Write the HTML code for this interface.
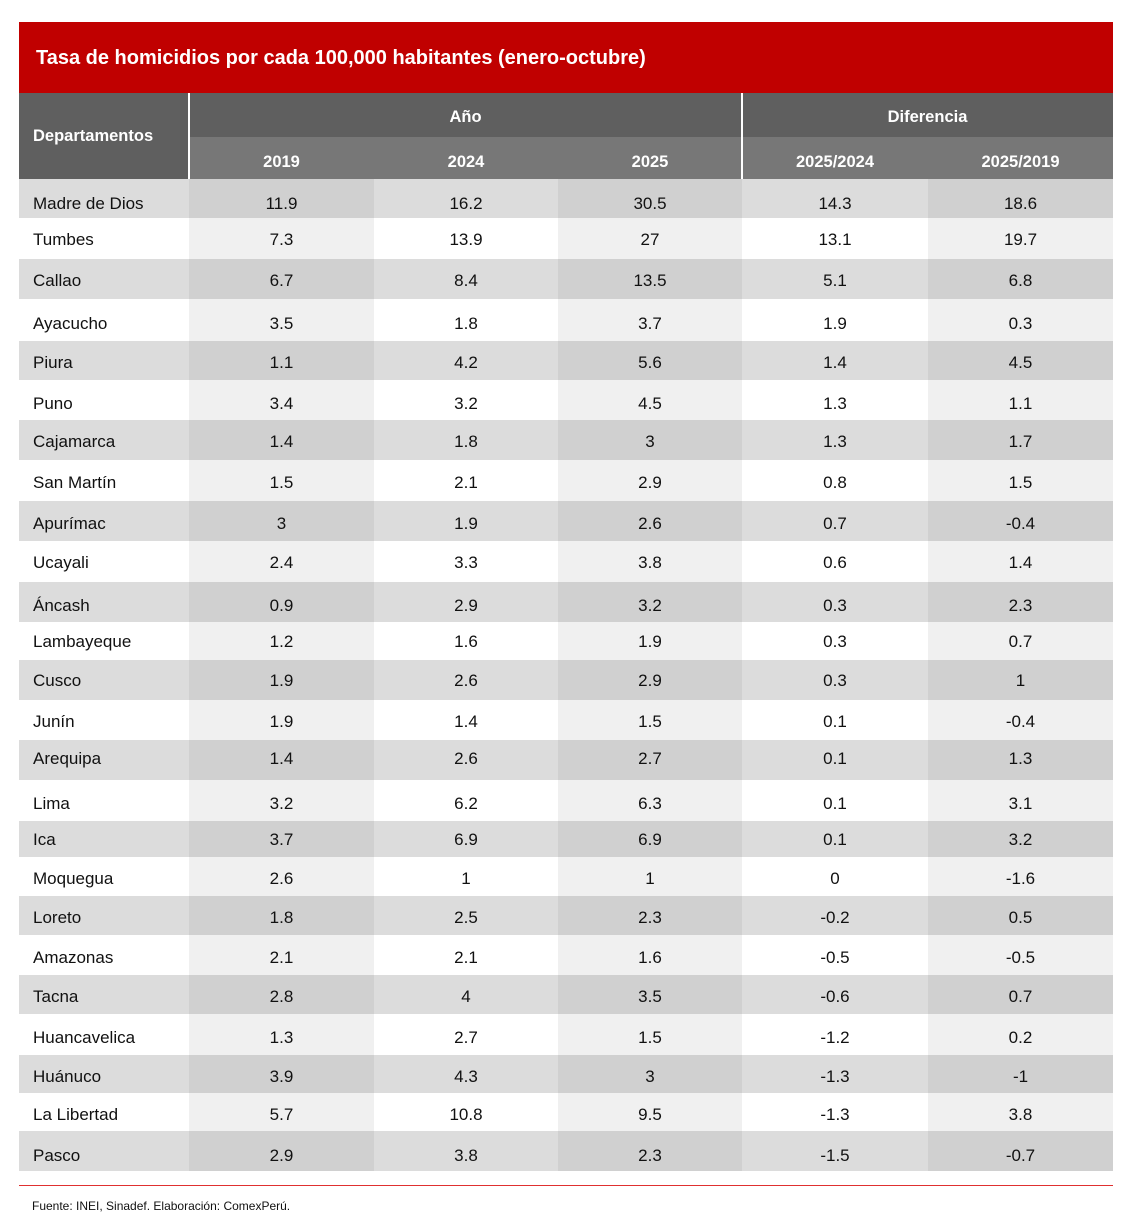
<!DOCTYPE html><html><head><meta charset="utf-8"><style>
body{margin:0;width:1136px;height:1229px;background:#fff;font-family:"Liberation Sans",Arial,sans-serif;position:relative;overflow:hidden}
div{position:absolute;box-sizing:border-box}
.c{display:flex;align-items:center;justify-content:center;font-size:17px;color:#111}
.n{justify-content:flex-start;padding-left:14px}
.h{color:#fff;font-weight:bold;font-size:16.5px}
</style></head><body>
<div style="left:19px;top:22px;width:1094px;height:71px;background:#c00000;color:#fff;font-weight:bold;font-size:20px;padding:25px 0 0 17px">Tasa de homicidios por cada 100,000 habitantes (enero-octubre)</div>
<div class="c h n" style="left:19px;top:93px;width:170px;height:86px;background:#5f5f5f;padding-top:0">Departamentos</div>
<div class="c h" style="left:189px;top:95px;width:553px;height:44px;background:#5f5f5f">Año</div>
<div style="left:189px;top:93px;width:924px;height:4px;background:#5f5f5f"></div>
<div class="c h" style="left:742px;top:95px;width:371px;height:44px;background:#5f5f5f">Diferencia</div>
<div style="left:189px;top:137px;width:924px;height:42px;background:#777"></div>
<div class="c h" style="left:189px;top:141px;width:185px;height:42px">2019</div>
<div class="c h" style="left:374px;top:141px;width:184px;height:42px">2024</div>
<div class="c h" style="left:558px;top:141px;width:184px;height:42px">2025</div>
<div class="c h" style="left:742px;top:141px;width:186px;height:42px">2025/2024</div>
<div class="c h" style="left:928px;top:141px;width:185px;height:42px">2025/2019</div>
<div style="left:188px;top:93px;width:2px;height:86px;background:#fff"></div>
<div style="left:741px;top:93px;width:2px;height:86px;background:#fff"></div>
<div id="t"></div>
<div style="left:19px;top:1185px;width:1094px;height:1px;background:#e03030"></div>
<div style="left:32px;top:1199px;font-size:12px;color:#111">Fuente: INEI, Sinadef. Elaboración: ComexPerú.</div>
<script>
var d=[["Madre de Dios","11.9","16.2","30.5","14.3","18.6"],["Tumbes","7.3","13.9","27","13.1","19.7"],["Callao","6.7","8.4","13.5","5.1","6.8"],["Ayacucho","3.5","1.8","3.7","1.9","0.3"],["Piura","1.1","4.2","5.6","1.4","4.5"],["Puno","3.4","3.2","4.5","1.3","1.1"],["Cajamarca","1.4","1.8","3","1.3","1.7"],["San Martín","1.5","2.1","2.9","0.8","1.5"],["Apurímac","3","1.9","2.6","0.7","-0.4"],["Ucayali","2.4","3.3","3.8","0.6","1.4"],["Áncash","0.9","2.9","3.2","0.3","2.3"],["Lambayeque","1.2","1.6","1.9","0.3","0.7"],["Cusco","1.9","2.6","2.9","0.3","1"],["Junín","1.9","1.4","1.5","0.1","-0.4"],["Arequipa","1.4","2.6","2.7","0.1","1.3"],["Lima","3.2","6.2","6.3","0.1","3.1"],["Ica","3.7","6.9","6.9","0.1","3.2"],["Moquegua","2.6","1","1","0","-1.6"],["Loreto","1.8","2.5","2.3","-0.2","0.5"],["Amazonas","2.1","2.1","1.6","-0.5","-0.5"],["Tacna","2.8","4","3.5","-0.6","0.7"],["Huancavelica","1.3","2.7","1.5","-1.2","0.2"],["Huánuco","3.9","4.3","3","-1.3","-1"],["La Libertad","5.7","10.8","9.5","-1.3","3.8"],["Pasco","2.9","3.8","2.3","-1.5","-0.7"]];
var b=[179,218,259,299,341,380,420,460,501,541,582,622,660,700,740,780,821,857,896,935,975,1014,1055,1093,1131,1171];
var tx=[203,239,280,323,362,403,441,482,523,562,605,641,680,721,758,803,839,878,917,957,996,1037,1076,1114,1155];
var cx=[19,189,374,558,742,928,1113],h="";
for(var i=0;i<25;i++){var dk=i%2==0;for(var j=0;j<6;j++){var bg=dk?(j%2==1?"#d0d0d0":"#dcdcdc"):(j%2==1?"#f0f0f0":"#fff");
h+='<div style="left:'+cx[j]+'px;top:'+b[i]+'px;width:'+(cx[j+1]-cx[j])+'px;height:'+(b[i+1]-b[i])+'px;background:'+bg+'"></div>';
h+='<div class="c'+(j==0?' n':'')+'" style="left:'+cx[j]+'px;top:'+(tx[i]-9)+'px;width:'+(cx[j+1]-cx[j])+'px;height:20px">'+d[i][j]+'</div>';}}
document.getElementById("t").outerHTML=h;
</script>
</body></html>
